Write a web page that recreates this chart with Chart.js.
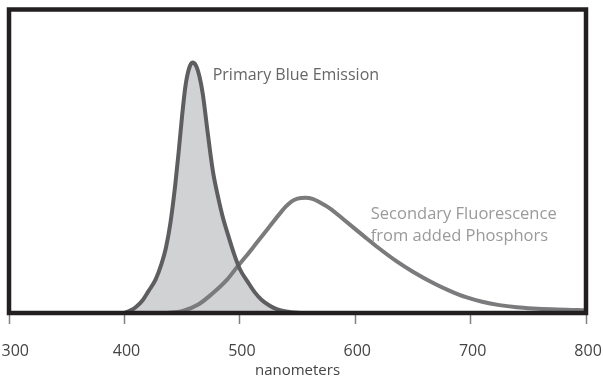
<!DOCTYPE html>
<html lang="en">
<head>
    <meta charset="UTF-8">
    <title>Emission spectrum</title>
    <script src="https://cdn.jsdelivr.net/npm/chart.js"></script>
    <style>
        html, body {
            margin: 0;
            padding: 0;
            background: #ffffff;
        }
        .chart-box {
            width: 603px;
            height: 381px;
        }
    </style>
</head>
<body>
    <div class="chart-box">
        <canvas id="spectrumChart" width="603" height="381"></canvas>
    </div>

    <script>
        // wavelengths (nm) and relative intensity
        const blueWavelengths = [400, 405, 410, 416, 421, 427, 432, 436, 440, 444, 447, 450, 453, 456, 459, 462, 465, 468, 471, 474, 477, 481, 485, 490, 495, 500, 507, 513, 519, 526, 532, 540, 550, 560];
        const blueIntensity = [0, 0.8, 2, 4.3, 7.3, 11, 16, 21.5, 30, 42, 53, 65, 75, 80.5, 82.5, 81.5, 78, 72, 63, 54, 46, 38.5, 32, 25.5, 19.5, 14.5, 10.2, 6.8, 4.3, 2.4, 1.3, 0.5, 0.1, 0];

        const phosphorWavelengths = [437, 450, 464, 475, 489, 498, 505, 515, 525, 535, 540, 545, 550, 557, 563, 570, 578, 590, 607, 620, 636, 650, 668, 682, 696, 710, 725, 740, 754, 770, 792, 800];
        const phosphorIntensity = [0, 0.6, 2.8, 6, 11, 15.3, 18.5, 23.3, 28.1, 32.9, 35.1, 36.8, 37.7, 38, 37.6, 36.3, 34.5, 30.8, 25.5, 21.5, 17, 13.6, 9.8, 7.3, 5.2, 3.7, 2.6, 1.9, 1.5, 1.2, 1, 0.9];

        const tickValues = [300, 400, 500, 600, 700, 800];

        const fontName = '"Open Sans", "DejaVu Sans", sans-serif';

        // black frame around the plot, drawn over the curves
        const framePlugin = {
            id: 'frame',
            afterDatasetsDraw(chart) {
                const a = chart.chartArea;
                const ctx = chart.ctx;
                ctx.save();
                ctx.strokeStyle = '#231f20';
                ctx.lineWidth = 4.5;
                ctx.strokeRect(a.left, a.top, a.right - a.left, a.bottom - a.top);
                ctx.restore();
            }
        };

        // the two curve captions
        const captionPlugin = {
            id: 'captions',
            afterDraw(chart) {
                const x = chart.scales.x;
                const y = chart.scales.y;
                const ctx = chart.ctx;
                ctx.save();
                ctx.textBaseline = 'middle';
                ctx.textAlign = 'left';
                ctx.font = '16px ' + fontName;
                ctx.fillStyle = '#666666';
                ctx.fillText('Primary Blue Emission', x.getPixelForValue(476.5), y.getPixelForValue(78.3));
                ctx.font = '16.5px ' + fontName;
                ctx.fillStyle = '#9a9a9c';
                ctx.fillText('Secondary Fluorescence', x.getPixelForValue(613.5), y.getPixelForValue(32.5));
                ctx.fillText('from added Phosphors', x.getPixelForValue(613.5), y.getPixelForValue(25.4));
                ctx.restore();
            }
        };

        const ctx = document.getElementById('spectrumChart').getContext('2d');
        new Chart(ctx, {
            type: 'line',
            data: {
                datasets: [{
                    label: 'Primary Blue Emission',
                    data: blueWavelengths.map((w, i) => ({ x: w, y: blueIntensity[i] })),
                    borderColor: '#5e5e60',
                    backgroundColor: '#d1d2d4',
                    borderWidth: 4,
                    fill: 'origin',
                    pointRadius: 0,
                    cubicInterpolationMode: 'monotone'
                }, {
                    label: 'Secondary Fluorescence from added Phosphors',
                    data: phosphorWavelengths.map((w, i) => ({ x: w, y: phosphorIntensity[i] })),
                    borderColor: '#7b7b7d',
                    borderWidth: 4,
                    fill: false,
                    pointRadius: 0,
                    cubicInterpolationMode: 'monotone'
                }]
            },
            options: {
                responsive: false,
                animation: false,
                layout: {
                    autoPadding: false,
                    padding: { left: 9, right: 17, top: 9.5, bottom: 1 }
                },
                plugins: {
                    legend: { display: false },
                    tooltip: { enabled: false },
                    filler: { drawTime: 'beforeDatasetsDraw' }
                },
                scales: {
                    x: {
                        type: 'linear',
                        min: 300,
                        max: 800,
                        afterBuildTicks: axis => {
                            axis.ticks = tickValues.map(v => ({ value: v }));
                        },
                        afterFit: axis => {
                            // fixed axis band so the plot keeps the reference frame
                            axis.paddingLeft = 0;
                            axis.paddingRight = 0;
                            axis.height = 67;
                        },
                        border: { display: false },
                        grid: {
                            drawOnChartArea: false,
                            drawTicks: true,
                            tickLength: 11,
                            color: '#808080',
                            tickWidth: 1.5
                        },
                        ticks: {
                            autoSkip: false,
                            maxRotation: 0,
                            padding: 18,
                            color: '#444444',
                            font: { family: fontName, size: 16 },
                            callback: v => (v === 300 ? '   ' + v : ' ' + v)
                        },
                        title: {
                            display: true,
                            text: 'nanometers',
                            color: '#444444',
                            font: { family: fontName, size: 15 },
                            padding: { top: 0, bottom: 0 }
                        }
                    },
                    y: {
                        display: false,
                        min: 0,
                        max: 100
                    }
                }
            },
            plugins: [framePlugin, captionPlugin]
        });
    </script>
</body>
</html>
